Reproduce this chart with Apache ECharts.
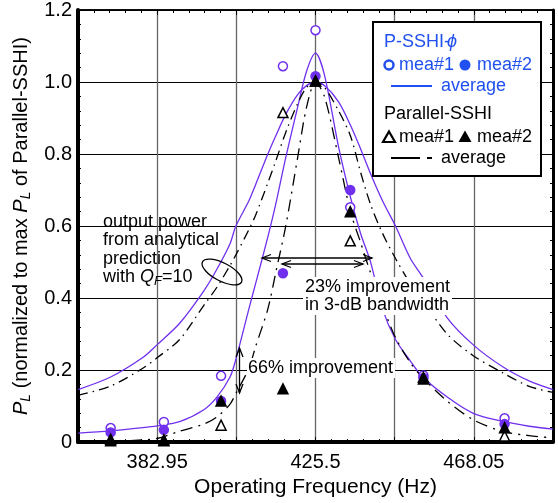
<!DOCTYPE html>
<html>
<head>
<meta charset="utf-8">
<script src="https://cdn.jsdelivr.net/npm/echarts@6/dist/echarts.min.js"></script>
<style>
  html, body { margin: 0; padding: 0; background: #fff; }
  #chart { width: 558px; height: 503px; }
</style>
</head>
<body>
<div id="chart"></div>
<script>
// measured points, frequency in Hz
const measFreq = [370.45, 384.75, 400.12, 416.75, 425.5, 434.84, 454.5, 476.31];
const psshiMea1 = [0.039, 0.056, 0.184, 1.044, 1.144, 0.652, 0.185, 0.066];
const psshiMea2 = [0.027, 0.034, 0.114, 0.469, 1.016, 0.700, 0.178, 0.050];
const parMea1 = [0.004, 0.004, 0.047, 0.915, 1.003, 0.559, 0.180, 0.017];
const parMea2 = [0.008, 0.006, 0.114, 0.148, 1.003, 0.640, 0.175, 0.040];

// curves
const curveFreq = [361.7, 370.3, 379.1, 382.9, 389.0, 395.5, 399.0, 402.5, 404.1, 407.6, 409.4,
  412.7, 414.8, 417.5, 420.7, 423.1, 425.5, 427.9, 431.7, 434.9, 437.6, 440.3, 443.5, 447.0,
  451.0, 454.2, 460.9, 467.9, 475.7, 482.9, 489.3];
const psshiAnalytic = [0.146, 0.18, 0.235, 0.27, 0.33, 0.42, 0.48, 0.55, 0.60, 0.67, 0.715,
  0.80, 0.85, 0.91, 0.965, 0.99, 1.0, 0.99, 0.945, 0.88, 0.815, 0.745, 0.67, 0.60,
  0.51, 0.46, 0.345, 0.27, 0.21, 0.17, 0.146];
const psshiAverage = [0.025, 0.031, 0.04, 0.045, 0.057, 0.09, 0.125, 0.18, 0.23, 0.37, 0.44,
  0.57, 0.66, 0.79, 0.93, 1.03, 1.08, 1.02, 0.82, 0.68, 0.58, 0.50, 0.37, 0.285,
  0.225, 0.182, 0.125, 0.08, 0.058, 0.044, 0.036];
const parAnalytic = [0.13, 0.155, 0.205, 0.234, 0.285, 0.38, 0.43, 0.49, 0.52, 0.59, 0.63,
  0.72, 0.78, 0.86, 0.94, 0.985, 1.0, 0.985, 0.92, 0.85, 0.75, 0.66, 0.58, 0.51,
  0.44, 0.395, 0.30, 0.24, 0.193, 0.155, 0.138];
const parAverage = [0.0, 0.002, 0.006, 0.01, 0.03, 0.05, 0.07, 0.105, 0.135, 0.205, 0.265,
  0.37, 0.47, 0.60, 0.79, 0.93, 1.0, 0.96, 0.79, 0.64, 0.555, 0.47, 0.38, 0.29,
  0.22, 0.18, 0.114, 0.062, 0.03, 0.018, 0.012];

const xTicks = [382.95, 425.5, 468.05];

const PURPLE = '#7030ee';
const BLUE = '#2150f0';
const FONT = '"Liberation Sans", Arial, sans-serif';

const pairs = (xs, ys) => xs.map((x, i) => [x, ys[i]]);

const chart = echarts.init(document.getElementById('chart'));

const axisCommon = {
  axisTick: { inside: true, length: 5, lineStyle: { color: '#000', width: 1 } },
  minorTick: { show: true, splitNumber: 5, length: 3, lineStyle: { color: '#000', width: 1 } },
};

function lineSeries(data, color, type, width) {
  return {
    type: 'line', data: data, symbol: 'none', smooth: 0.3, z: 3,
    lineStyle: { color: color, type: type, width: width },
  };
}
function pointSeries(data, symbol, fill, stroke, size) {
  return {
    type: 'scatter', data: data, symbol: symbol, symbolSize: size, z: 5,
    itemStyle: { color: fill, borderColor: stroke, borderWidth: 1.5, opacity: 1 },
  };
}

const txt = (text, x, y, extra) => ({
  type: 'text', z: 20, x: x, y: y,
  style: Object.assign({ text: text, font: '18px ' + FONT, fill: '#000', textVerticalAlign: 'middle' }, extra || {}),
});
const seg = (x1, y1, x2, y2, extra) => ({
  type: 'line', z: 20,
  shape: { x1: x1, y1: y1, x2: x2, y2: y2 },
  style: Object.assign({ stroke: '#000', lineWidth: 1.3 }, extra || {}),
});
function hArrow(x1, x2, y) {
  return [
    seg(x1, y, x2, y),
    { type: 'polyline', z: 20, shape: { points: [[x1 + 9, y - 3.5], [x1, y], [x1 + 9, y + 3.5]] }, style: { stroke: '#000', lineWidth: 1.3, fill: null } },
    { type: 'polyline', z: 20, shape: { points: [[x2 - 9, y - 3.5], [x2, y], [x2 - 9, y + 3.5]] }, style: { stroke: '#000', lineWidth: 1.3, fill: null } },
  ];
}
function vArrow(x, y1, y2) {
  return [
    seg(x, y1, x, y2),
    { type: 'polyline', z: 20, shape: { points: [[x - 3.5, y1 + 9], [x, y1], [x + 3.5, y1 + 9]] }, style: { stroke: '#000', lineWidth: 1.3, fill: null } },
    { type: 'polyline', z: 20, shape: { points: [[x - 3.5, y2 - 9], [x, y2], [x + 3.5, y2 - 9]] }, style: { stroke: '#000', lineWidth: 1.3, fill: null } },
  ];
}

const legendGraphics = [
  { type: 'rect', z: 18, shape: { x: 373, y: 22, width: 168, height: 154 }, style: { fill: '#fff', stroke: '#000', lineWidth: 2 } },
  txt('P-SSHI-', 384, 42, { fill: BLUE }),
  txt('\u03d5', 447, 42, { fill: BLUE, font: 'italic 18px ' + FONT }),
  { type: 'circle', z: 20, shape: { cx: 389, cy: 65, r: 4.5 }, style: { fill: '#fff', stroke: BLUE, lineWidth: 2.5 } },
  txt('mea#1', 399, 65, { fill: BLUE }),
  { type: 'circle', z: 20, shape: { cx: 465, cy: 65, r: 5.5 }, style: { fill: BLUE } },
  txt('mea#2', 477, 65, { fill: BLUE }),
  seg(391, 86, 432, 86, { stroke: BLUE, lineWidth: 2 }),
  txt('average', 441, 86, { fill: BLUE }),
  txt('Parallel-SSHI', 384, 114),
  { type: 'polygon', z: 20, shape: { points: [[389, 131.5], [395, 142], [383, 142]] }, style: { fill: '#fff', stroke: '#000', lineWidth: 2.2 } },
  txt('mea#1', 399, 137),
  { type: 'polygon', z: 20, shape: { points: [[465, 130.5], [471.5, 142], [458.5, 142]] }, style: { fill: '#000' } },
  txt('mea#2', 477, 137),
  seg(391, 158, 420, 158, { lineWidth: 2 }),
  seg(427, 158, 432, 158, { lineWidth: 2 }),
  txt('average', 441, 158),
];

const annotationGraphics = [
  txt('output power', 103, 222),
  txt('from analytical', 103, 240),
  txt('prediction', 103, 259),
  {
    type: 'text', z: 20, x: 103, y: 277,
    style: {
      text: 'with {q|Q}{f|F}=10', font: '18px ' + FONT, fill: '#000', textVerticalAlign: 'middle',
      rich: {
        q: { font: 'italic 18px ' + FONT, fill: '#000' },
        f: { font: 'italic 13px ' + FONT, fill: '#000', padding: [9, 0, 0, 0] },
      },
    },
  },
  { type: 'ellipse', z: 20, x: 222, y: 272, rotation: -0.48, shape: { cx: 0, cy: 0, rx: 22, ry: 9 }, style: { fill: null, stroke: '#000', lineWidth: 1.3 } },
  ...hArrow(262, 372, 258),
  ...hArrow(282, 363, 264),
  txt('23% improvement\nin 3-dB bandwidth', 303, 296, { backgroundColor: '#fff', padding: [1, 2, 1, 2], lineHeight: 18 }),
  ...vArrow(239.5, 348, 393),
  txt('66% improvement', 247, 368, { backgroundColor: '#fff', padding: [1, 2, 1, 1] }),
];

chart.setOption({
  animation: false,
  backgroundColor: '#fff',
  grid: { left: 78, right: 5, top: 6, bottom: 60, show: true, borderColor: '#000', borderWidth: 1.5 },
  xAxis: [
    Object.assign({
      type: 'value', min: 361.675, max: 489.325, interval: 21.275,
      name: 'Operating Frequency (Hz)', nameLocation: 'middle', nameGap: 33,
      nameTextStyle: { fontFamily: FONT, fontSize: 21, color: '#000' },
      axisLine: { show: true, onZero: false, lineStyle: { color: '#000', width: 4 } },
      axisLabel: {
        fontFamily: FONT, fontSize: 20, color: '#000', margin: 10,
        formatter: v => (xTicks.some(t => Math.abs(t - v) < 1e-6) ? String(parseFloat(v.toFixed(2))) : ''),
      },
      splitLine: { show: true, lineStyle: { color: '#666', width: 1.3 } },
    }, axisCommon),
    Object.assign({
      type: 'value', position: 'top', min: 361.675, max: 489.325, interval: 21.275,
      axisLine: { show: true, onZero: false, lineStyle: { color: '#000', width: 1.5 } },
      axisLabel: { show: false }, splitLine: { show: false },
    }, axisCommon),
  ],
  yAxis: [
    Object.assign({
      type: 'value', min: 0, max: 1.2, interval: 0.2,
      name: '{i|P}{s|L} (normalized to max {i|P}{s|L} of Parallel-SSHI)',
      nameLocation: 'middle', nameGap: 43, nameRotate: 90,
      nameTextStyle: {
        fontFamily: FONT, fontSize: 20, color: '#000',
        rich: {
          i: { fontFamily: FONT, fontSize: 20, fontStyle: 'italic', color: '#000' },
          s: { fontFamily: FONT, fontSize: 14, fontStyle: 'italic', color: '#000', padding: [10, 0, 0, 0] },
        },
      },
      axisLine: { show: true, onZero: false, lineStyle: { color: '#000', width: 4 } },
      axisLabel: {
        fontFamily: FONT, fontSize: 20, color: '#000', margin: 6,
        formatter: v => (v === 0 ? '0' : v.toFixed(1)),
      },
      splitLine: { show: true, lineStyle: { color: '#000', width: 1 } },
    }, axisCommon),
    Object.assign({
      type: 'value', position: 'right', min: 0, max: 1.2, interval: 0.2,
      axisLine: { show: true, onZero: false, lineStyle: { color: '#000', width: 3 } },
      axisLabel: { show: false }, splitLine: { show: false },
    }, axisCommon),
  ],
  series: [
    lineSeries(pairs(curveFreq, psshiAnalytic), PURPLE, 'solid', 1.3),
    lineSeries(pairs(curveFreq, psshiAverage), PURPLE, 'solid', 1.3),
    lineSeries(pairs(curveFreq, parAnalytic), '#000', [10, 5, 1.5, 5], 1.3),
    lineSeries(pairs(curveFreq, parAverage), '#000', [12, 6, 2, 6], 1.3),
    pointSeries(pairs(measFreq, psshiMea1), 'circle', '#fff', PURPLE, 9),
    pointSeries(pairs(measFreq, psshiMea2), 'circle', PURPLE, PURPLE, 9),
    pointSeries(pairs(measFreq, parMea1), 'triangle', '#fff', '#000', 10),
    pointSeries(pairs(measFreq, parMea2), 'triangle', '#000', '#000', 10),
  ],
  graphic: [...annotationGraphics, ...legendGraphics],
});
</script>
</body>
</html>
